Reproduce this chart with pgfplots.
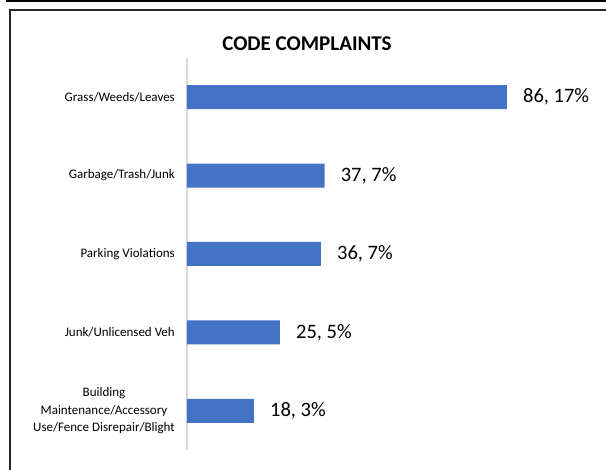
\documentclass[border=0pt]{standalone}
\usepackage{pgfplots}
\pgfplotsset{compat=1.18}
\usepackage{fontspec}
\setmainfont{Carlito}
\definecolor{barblue}{HTML}{4472C4}
\definecolor{axgray}{HTML}{D9D9D9}
\begin{document}
\begin{tikzpicture}
\path (0pt,0pt) rectangle (606pt,470pt);
\begin{axis}[
  at={(187pt,20pt)}, anchor=south west,
  scale only axis, width=409.2pt, height=392pt,
  xbar, bar width=24pt,
  xmin=0, xmax=110,
  ymin=-0.5, ymax=4.5, y dir=reverse,
  axis line style={draw=none},
  xtick=\empty,
  ytick={0,1,2,3,4},
  yticklabels={Grass/Weeds/Leaves, Garbage/Trash/Junk, Parking Violations, Junk/Unlicensed Veh, {Building\\Maintenance/Accessory\\Use/Fence Disrepair/Blight}},
  major tick length=0pt,
  yticklabel style={align=center, font=\fontsize{13}{17.5}\selectfont, inner sep=0pt, anchor=east, xshift=-12pt},
  nodes near coords, point meta=explicit symbolic,
  every node near coord/.append style={font=\fontsize{20.5}{24}\selectfont, anchor=west, inner sep=0pt, xshift=16pt, text=black},
  clip=false,
]
\draw[axgray, line width=1.4pt] (rel axis cs:0,0) -- (rel axis cs:0,1);
\addplot[fill=barblue, draw=none] coordinates {
  (86,0) [86, 17\%]
  (37,1) [37, 7\%]
  (36,2) [36, 7\%]
  (25,3) [25, 5\%]
  (18,4) [18, 3\%]
};
\end{axis}
\node[font=\bfseries\fontsize{21}{25}\selectfont, anchor=base] at (307pt,419pt) {CODE COMPLAINTS};
\draw[black, line width=2pt] (6pt,469pt) -- (606pt,469pt);
\draw[black!85, line width=1.8pt] (10pt,0pt) -- (10pt,460pt) -- (606pt,460pt);
\pgfresetboundingbox
\useasboundingbox (0pt,0pt) rectangle (606pt,470pt);
\end{tikzpicture}
\end{document}
